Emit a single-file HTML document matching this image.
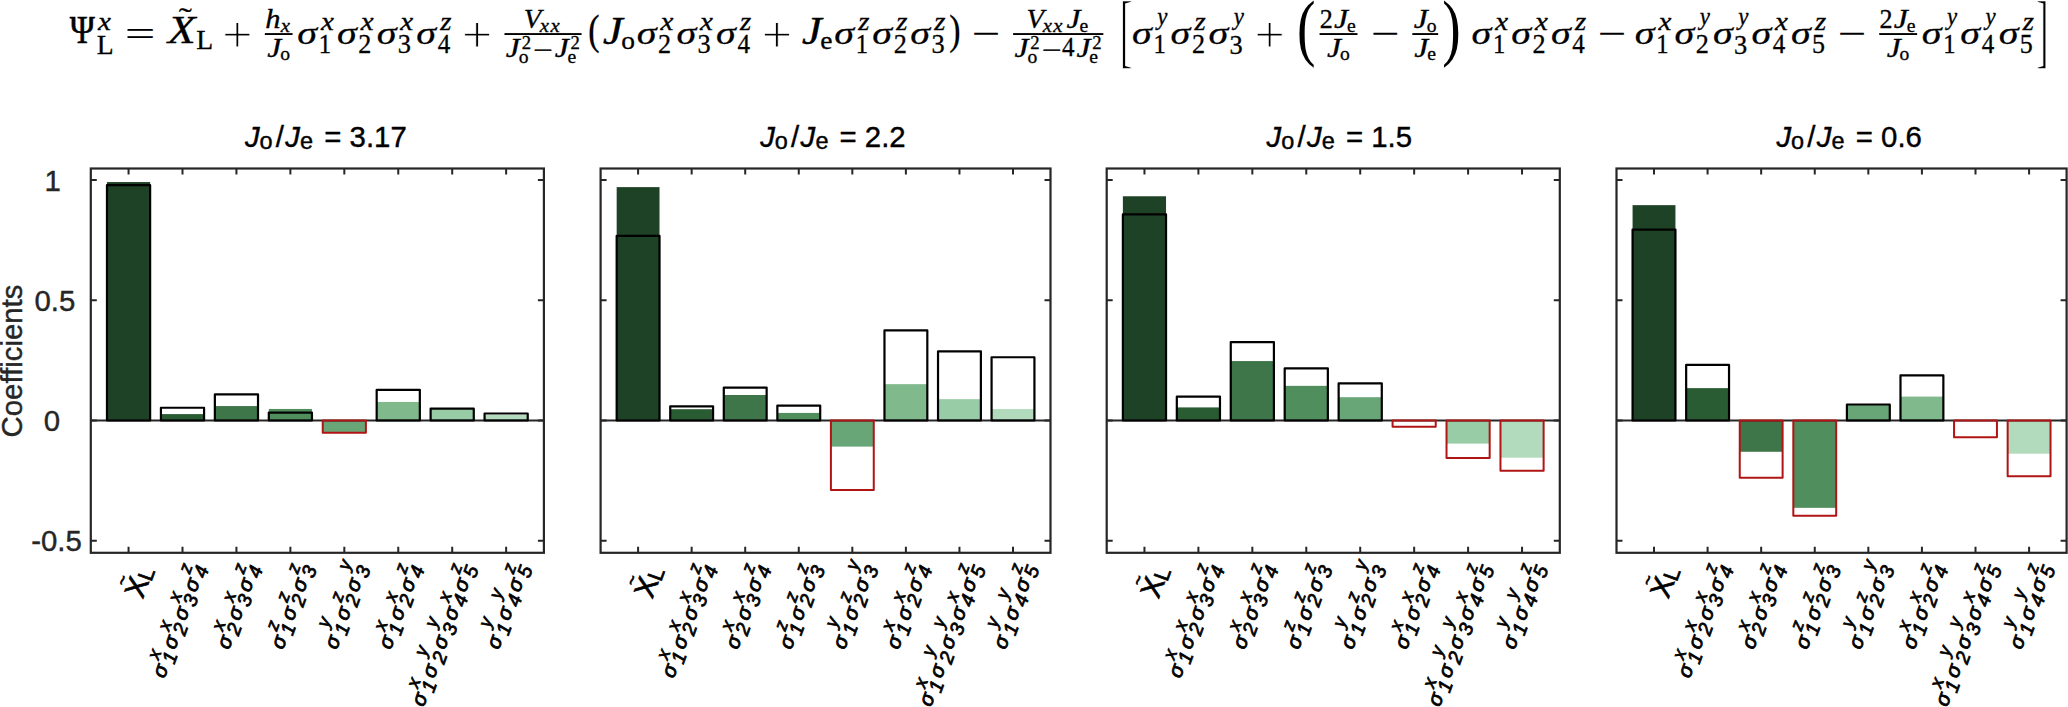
<!DOCTYPE html>
<html><head><meta charset="utf-8"><title>Figure</title>
<style>
html,body{margin:0;padding:0;background:#fff;}
svg{display:block;}
text{white-space:pre;}
</style></head>
<body>
<svg width="2068" height="707" viewBox="0 0 2068 707" font-family="'Liberation Sans', sans-serif">
<rect width="2068" height="707" fill="#fff"/>
<g font-family="'Liberation Serif', serif" fill="#000">
<text transform="matrix(0.9052 0 0 1.0431 69.66 43.43)" font-size="37.52" stroke="#000" stroke-width="0.6">Ψ</text>
<text transform="matrix(1.1098 0 0 0.9870 97.92 30.10)" font-size="26.26" font-style="italic" stroke="#000" stroke-width="0.32">x</text>
<text transform="matrix(1.0518 0 0 1.0431 96.87 53.76)" font-size="26.26" stroke="#000" stroke-width="0.32">L</text>
<text transform="matrix(1.4291 0 0 0.9360 124.94 45.71)" font-size="37.52" stroke="#000" stroke-width="0.2">=</text>
<text transform="matrix(1.0524 0 0 0.7270 178.64 27.26)" font-size="37.52" stroke="#000" stroke-width="0.3">˜</text>
<text transform="matrix(1.2184 0 0 1.0431 167.65 43.43)" font-size="37.52" font-style="italic" stroke="#000" stroke-width="0.3">X</text>
<text transform="matrix(1.0518 0 0 1.0431 196.27 49.06)" font-size="26.26" stroke="#000" stroke-width="0.32">L</text>
<text transform="matrix(1.4291 0 0 1.4297 222.25 51.86)" font-size="37.52" stroke="#fff" stroke-width="0.55">+</text>
<text transform="matrix(1.1625 0 0 1.0161 265.19 28.15)" font-size="26.26" font-style="italic" stroke="#000" stroke-width="0.32">h</text>
<text transform="matrix(1.1098 0 0 0.9870 280.77 32.01)" font-size="18.76" font-style="italic" stroke="#000" stroke-width="0.32">x</text>
<rect x="264.84" y="33.10" width="27.73" height="1.9"/>
<text transform="matrix(1.2014 0 0 1.0609 267.19 56.67)" font-size="26.26" font-style="italic" stroke="#000" stroke-width="0.32">J</text>
<text transform="matrix(1.0452 0 0 0.9543 280.14 60.34)" font-size="18.76" stroke="#000" stroke-width="0.32">o</text>
<text transform="matrix(1.0684 0 0 0.8413 297.31 43.53)" font-size="37.52" font-style="italic" stroke="#000" stroke-width="0.3">σ</text>
<text transform="matrix(1.1098 0 0 0.9870 320.98 30.10)" font-size="26.26" font-style="italic" stroke="#000" stroke-width="0.32">x</text>
<text transform="matrix(0.9374 0 0 1.0089 318.69 52.74)" font-size="26.26" stroke="#000" stroke-width="0.32">1</text>
<text transform="matrix(1.0684 0 0 0.8413 336.98 43.53)" font-size="37.52" font-style="italic" stroke="#000" stroke-width="0.3">σ</text>
<text transform="matrix(1.1098 0 0 0.9870 360.65 30.10)" font-size="26.26" font-style="italic" stroke="#000" stroke-width="0.32">x</text>
<text transform="matrix(0.9953 0 0 1.0059 358.35 52.74)" font-size="26.26" stroke="#000" stroke-width="0.32">2</text>
<text transform="matrix(1.0684 0 0 0.8413 376.65 43.53)" font-size="37.52" font-style="italic" stroke="#000" stroke-width="0.3">σ</text>
<text transform="matrix(1.1098 0 0 0.9870 400.32 30.10)" font-size="26.26" font-style="italic" stroke="#000" stroke-width="0.32">x</text>
<text transform="matrix(1.0046 0 0 1.0240 397.69 53.06)" font-size="26.26" stroke="#000" stroke-width="0.32">3</text>
<text transform="matrix(1.0684 0 0 0.8413 416.32 43.53)" font-size="37.52" font-style="italic" stroke="#000" stroke-width="0.3">σ</text>
<text transform="matrix(1.0950 0 0 0.9870 440.32 30.10)" font-size="26.26" font-style="italic" stroke="#000" stroke-width="0.32">z</text>
<text transform="matrix(0.9530 0 0 1.0286 437.77 52.74)" font-size="26.26" stroke="#000" stroke-width="0.32">4</text>
<text transform="matrix(1.4291 0 0 1.4297 461.88 51.86)" font-size="37.52" stroke="#fff" stroke-width="0.55">+</text>
<text transform="matrix(1.0889 0 0 1.0524 523.69 28.02)" font-size="26.26" font-style="italic" stroke="#000" stroke-width="0.32">V</text>
<text transform="matrix(1.1098 0 0 0.9870 539.83 32.01)" font-size="18.76" font-style="italic" stroke="#000" stroke-width="0.32">x</text>
<text transform="matrix(1.1098 0 0 0.9870 550.55 32.01)" font-size="18.76" font-style="italic" stroke="#000" stroke-width="0.32">x</text>
<rect x="504.47" y="33.10" width="77.12" height="1.9"/>
<text transform="matrix(1.2014 0 0 1.0609 505.86 56.67)" font-size="26.26" font-style="italic" stroke="#000" stroke-width="0.32">J</text>
<text transform="matrix(0.9953 0 0 1.0059 521.68 48.78)" font-size="18.76" stroke="#000" stroke-width="0.32">2</text>
<text transform="matrix(1.0452 0 0 0.9543 518.81 62.89)" font-size="18.76" stroke="#000" stroke-width="0.32">o</text>
<text transform="matrix(1.3130 0 0 0.8031 533.28 56.81)" font-size="26.26" stroke="#000" stroke-width="0.55">−</text>
<text transform="matrix(1.2014 0 0 1.0609 554.63 56.67)" font-size="26.26" font-style="italic" stroke="#000" stroke-width="0.32">J</text>
<text transform="matrix(0.9953 0 0 1.0059 570.45 48.78)" font-size="18.76" stroke="#000" stroke-width="0.32">2</text>
<text transform="matrix(1.0456 0 0 0.9543 567.56 62.89)" font-size="18.76" stroke="#000" stroke-width="0.32">e</text>
<text transform="matrix(0.9033 0 0 1.1029 588.31 44.00)" font-size="37.52" stroke="#000" stroke-width="0.3">(</text>
<text transform="matrix(1.2014 0 0 1.0609 602.66 43.87)" font-size="37.52" font-style="italic" stroke="#000" stroke-width="0.3">J</text>
<text transform="matrix(1.0452 0 0 0.9543 621.17 49.10)" font-size="26.26" stroke="#000" stroke-width="0.32">o</text>
<text transform="matrix(1.0684 0 0 0.8413 636.72 43.53)" font-size="37.52" font-style="italic" stroke="#000" stroke-width="0.3">σ</text>
<text transform="matrix(1.1098 0 0 0.9870 660.39 30.10)" font-size="26.26" font-style="italic" stroke="#000" stroke-width="0.32">x</text>
<text transform="matrix(0.9953 0 0 1.0059 658.09 52.74)" font-size="26.26" stroke="#000" stroke-width="0.32">2</text>
<text transform="matrix(1.0684 0 0 0.8413 676.39 43.53)" font-size="37.52" font-style="italic" stroke="#000" stroke-width="0.3">σ</text>
<text transform="matrix(1.1098 0 0 0.9870 700.06 30.10)" font-size="26.26" font-style="italic" stroke="#000" stroke-width="0.32">x</text>
<text transform="matrix(1.0046 0 0 1.0240 697.44 53.06)" font-size="26.26" stroke="#000" stroke-width="0.32">3</text>
<text transform="matrix(1.0684 0 0 0.8413 716.06 43.53)" font-size="37.52" font-style="italic" stroke="#000" stroke-width="0.3">σ</text>
<text transform="matrix(1.0950 0 0 0.9870 740.07 30.10)" font-size="26.26" font-style="italic" stroke="#000" stroke-width="0.32">z</text>
<text transform="matrix(0.9530 0 0 1.0286 737.51 52.74)" font-size="26.26" stroke="#000" stroke-width="0.32">4</text>
<text transform="matrix(1.4291 0 0 1.4297 761.63 51.86)" font-size="37.52" stroke="#fff" stroke-width="0.55">+</text>
<text transform="matrix(1.2014 0 0 1.0609 801.70 43.87)" font-size="37.52" font-style="italic" stroke="#000" stroke-width="0.3">J</text>
<text transform="matrix(1.0456 0 0 0.9543 820.18 49.10)" font-size="26.26" stroke="#000" stroke-width="0.32">e</text>
<text transform="matrix(1.0684 0 0 0.8413 834.30 43.53)" font-size="37.52" font-style="italic" stroke="#000" stroke-width="0.3">σ</text>
<text transform="matrix(1.0950 0 0 0.9870 858.30 30.10)" font-size="26.26" font-style="italic" stroke="#000" stroke-width="0.32">z</text>
<text transform="matrix(0.9374 0 0 1.0089 855.68 52.74)" font-size="26.26" stroke="#000" stroke-width="0.32">1</text>
<text transform="matrix(1.0684 0 0 0.8413 872.33 43.53)" font-size="37.52" font-style="italic" stroke="#000" stroke-width="0.3">σ</text>
<text transform="matrix(1.0950 0 0 0.9870 896.33 30.10)" font-size="26.26" font-style="italic" stroke="#000" stroke-width="0.32">z</text>
<text transform="matrix(0.9953 0 0 1.0059 893.70 52.74)" font-size="26.26" stroke="#000" stroke-width="0.32">2</text>
<text transform="matrix(1.0684 0 0 0.8413 910.36 43.53)" font-size="37.52" font-style="italic" stroke="#000" stroke-width="0.3">σ</text>
<text transform="matrix(1.0950 0 0 0.9870 934.36 30.10)" font-size="26.26" font-style="italic" stroke="#000" stroke-width="0.32">z</text>
<text transform="matrix(1.0046 0 0 1.0240 931.40 53.06)" font-size="26.26" stroke="#000" stroke-width="0.32">3</text>
<text transform="matrix(0.9033 0 0 1.1029 949.20 44.00)" font-size="37.52" stroke="#000" stroke-width="0.3">)</text>
<text transform="matrix(1.3130 0 0 0.8031 971.74 44.06)" font-size="37.52" stroke="#000" stroke-width="0.55">−</text>
<text transform="matrix(1.0889 0 0 1.0524 1026.49 28.02)" font-size="26.26" font-style="italic" stroke="#000" stroke-width="0.32">V</text>
<text transform="matrix(1.1098 0 0 0.9870 1042.63 32.01)" font-size="18.76" font-style="italic" stroke="#000" stroke-width="0.32">x</text>
<text transform="matrix(1.1098 0 0 0.9870 1053.35 32.01)" font-size="18.76" font-style="italic" stroke="#000" stroke-width="0.32">x</text>
<text transform="matrix(1.2014 0 0 1.0609 1066.54 28.17)" font-size="26.26" font-style="italic" stroke="#000" stroke-width="0.32">J</text>
<text transform="matrix(1.0456 0 0 0.9543 1079.48 31.83)" font-size="18.76" stroke="#000" stroke-width="0.32">e</text>
<rect x="1013.10" y="33.10" width="90.25" height="1.9"/>
<text transform="matrix(1.2014 0 0 1.0609 1014.49 56.67)" font-size="26.26" font-style="italic" stroke="#000" stroke-width="0.32">J</text>
<text transform="matrix(0.9953 0 0 1.0059 1030.31 48.78)" font-size="18.76" stroke="#000" stroke-width="0.32">2</text>
<text transform="matrix(1.0452 0 0 0.9543 1027.44 62.89)" font-size="18.76" stroke="#000" stroke-width="0.32">o</text>
<text transform="matrix(1.3130 0 0 0.8031 1041.91 56.81)" font-size="26.26" stroke="#000" stroke-width="0.55">−</text>
<text transform="matrix(0.9530 0 0 1.0286 1062.12 56.37)" font-size="26.26" stroke="#000" stroke-width="0.32">4</text>
<text transform="matrix(1.2014 0 0 1.0609 1076.39 56.67)" font-size="26.26" font-style="italic" stroke="#000" stroke-width="0.32">J</text>
<text transform="matrix(0.9953 0 0 1.0059 1092.21 48.78)" font-size="18.76" stroke="#000" stroke-width="0.32">2</text>
<text transform="matrix(1.0456 0 0 0.9543 1089.32 62.89)" font-size="18.76" stroke="#000" stroke-width="0.32">e</text>
<text transform="matrix(1.0195 0 0 2.2187 1119.74 57.54)" font-size="37.52" stroke="#fff" stroke-width="0.7">[</text>
<text transform="matrix(1.0684 0 0 0.8413 1132.05 43.53)" font-size="37.52" font-style="italic" stroke="#000" stroke-width="0.3">σ</text>
<text transform="matrix(0.8734 0 0 0.9588 1157.28 25.35)" font-size="26.26" font-style="italic" stroke="#000" stroke-width="0.32">y</text>
<text transform="matrix(0.9374 0 0 1.0089 1153.43 53.43)" font-size="26.26" stroke="#000" stroke-width="0.32">1</text>
<text transform="matrix(1.0684 0 0 0.8413 1170.53 43.53)" font-size="37.52" font-style="italic" stroke="#000" stroke-width="0.3">σ</text>
<text transform="matrix(1.0950 0 0 0.9870 1194.53 30.10)" font-size="26.26" font-style="italic" stroke="#000" stroke-width="0.32">z</text>
<text transform="matrix(0.9953 0 0 1.0059 1191.90 52.74)" font-size="26.26" stroke="#000" stroke-width="0.32">2</text>
<text transform="matrix(1.0684 0 0 0.8413 1208.56 43.53)" font-size="37.52" font-style="italic" stroke="#000" stroke-width="0.3">σ</text>
<text transform="matrix(0.8734 0 0 0.9588 1233.79 25.35)" font-size="26.26" font-style="italic" stroke="#000" stroke-width="0.32">y</text>
<text transform="matrix(1.0046 0 0 1.0240 1229.60 53.75)" font-size="26.26" stroke="#000" stroke-width="0.32">3</text>
<text transform="matrix(1.4291 0 0 1.4297 1254.57 51.86)" font-size="37.52" stroke="#fff" stroke-width="0.55">+</text>
<text transform="matrix(1.4795 0 0 1.9840 1296.97 51.93)" font-size="37.52">(</text>
<text transform="matrix(0.9953 0 0 1.0059 1319.73 27.86)" font-size="26.26" stroke="#000" stroke-width="0.32">2</text>
<text transform="matrix(1.2014 0 0 1.0609 1334.09 28.17)" font-size="26.26" font-style="italic" stroke="#000" stroke-width="0.32">J</text>
<text transform="matrix(1.0456 0 0 0.9543 1347.02 31.83)" font-size="18.76" stroke="#000" stroke-width="0.32">e</text>
<rect x="1319.57" y="33.10" width="37.91" height="1.9"/>
<text transform="matrix(1.2014 0 0 1.0609 1327.00 56.67)" font-size="26.26" font-style="italic" stroke="#000" stroke-width="0.32">J</text>
<text transform="matrix(1.0452 0 0 0.9543 1339.95 60.34)" font-size="18.76" stroke="#000" stroke-width="0.32">o</text>
<text transform="matrix(1.3130 0 0 0.8031 1370.97 44.06)" font-size="37.52" stroke="#000" stroke-width="0.55">−</text>
<text transform="matrix(1.2014 0 0 1.0609 1413.72 28.17)" font-size="26.26" font-style="italic" stroke="#000" stroke-width="0.32">J</text>
<text transform="matrix(1.0452 0 0 0.9543 1426.68 31.83)" font-size="18.76" stroke="#000" stroke-width="0.32">o</text>
<rect x="1412.33" y="33.10" width="25.82" height="1.9"/>
<text transform="matrix(1.2014 0 0 1.0609 1414.24 56.67)" font-size="26.26" font-style="italic" stroke="#000" stroke-width="0.32">J</text>
<text transform="matrix(1.0456 0 0 0.9543 1427.18 60.34)" font-size="18.76" stroke="#000" stroke-width="0.32">e</text>
<text transform="matrix(1.4795 0 0 1.9840 1442.22 51.93)" font-size="37.52">)</text>
<text transform="matrix(1.0684 0 0 0.8413 1471.55 43.53)" font-size="37.52" font-style="italic" stroke="#000" stroke-width="0.3">σ</text>
<text transform="matrix(1.1098 0 0 0.9870 1495.22 30.10)" font-size="26.26" font-style="italic" stroke="#000" stroke-width="0.32">x</text>
<text transform="matrix(0.9374 0 0 1.0089 1492.93 52.74)" font-size="26.26" stroke="#000" stroke-width="0.32">1</text>
<text transform="matrix(1.0684 0 0 0.8413 1511.22 43.53)" font-size="37.52" font-style="italic" stroke="#000" stroke-width="0.3">σ</text>
<text transform="matrix(1.1098 0 0 0.9870 1534.89 30.10)" font-size="26.26" font-style="italic" stroke="#000" stroke-width="0.32">x</text>
<text transform="matrix(0.9953 0 0 1.0059 1532.59 52.74)" font-size="26.26" stroke="#000" stroke-width="0.32">2</text>
<text transform="matrix(1.0684 0 0 0.8413 1550.89 43.53)" font-size="37.52" font-style="italic" stroke="#000" stroke-width="0.3">σ</text>
<text transform="matrix(1.0950 0 0 0.9870 1574.89 30.10)" font-size="26.26" font-style="italic" stroke="#000" stroke-width="0.32">z</text>
<text transform="matrix(0.9530 0 0 1.0286 1572.34 52.74)" font-size="26.26" stroke="#000" stroke-width="0.32">4</text>
<text transform="matrix(1.3130 0 0 0.8031 1597.68 44.06)" font-size="37.52" stroke="#000" stroke-width="0.55">−</text>
<text transform="matrix(1.0684 0 0 0.8413 1634.77 43.53)" font-size="37.52" font-style="italic" stroke="#000" stroke-width="0.3">σ</text>
<text transform="matrix(1.1098 0 0 0.9870 1658.44 30.10)" font-size="26.26" font-style="italic" stroke="#000" stroke-width="0.32">x</text>
<text transform="matrix(0.9374 0 0 1.0089 1656.15 52.74)" font-size="26.26" stroke="#000" stroke-width="0.32">1</text>
<text transform="matrix(1.0684 0 0 0.8413 1674.44 43.53)" font-size="37.52" font-style="italic" stroke="#000" stroke-width="0.3">σ</text>
<text transform="matrix(0.8734 0 0 0.9588 1699.67 25.35)" font-size="26.26" font-style="italic" stroke="#000" stroke-width="0.32">y</text>
<text transform="matrix(0.9953 0 0 1.0059 1695.81 53.43)" font-size="26.26" stroke="#000" stroke-width="0.32">2</text>
<text transform="matrix(1.0684 0 0 0.8413 1712.92 43.53)" font-size="37.52" font-style="italic" stroke="#000" stroke-width="0.3">σ</text>
<text transform="matrix(0.8734 0 0 0.9588 1738.15 25.35)" font-size="26.26" font-style="italic" stroke="#000" stroke-width="0.32">y</text>
<text transform="matrix(1.0046 0 0 1.0240 1733.96 53.75)" font-size="26.26" stroke="#000" stroke-width="0.32">3</text>
<text transform="matrix(1.0684 0 0 0.8413 1751.40 43.53)" font-size="37.52" font-style="italic" stroke="#000" stroke-width="0.3">σ</text>
<text transform="matrix(1.1098 0 0 0.9870 1775.07 30.10)" font-size="26.26" font-style="italic" stroke="#000" stroke-width="0.32">x</text>
<text transform="matrix(0.9530 0 0 1.0286 1772.85 52.74)" font-size="26.26" stroke="#000" stroke-width="0.32">4</text>
<text transform="matrix(1.0684 0 0 0.8413 1791.07 43.53)" font-size="37.52" font-style="italic" stroke="#000" stroke-width="0.3">σ</text>
<text transform="matrix(1.0950 0 0 0.9870 1815.07 30.10)" font-size="26.26" font-style="italic" stroke="#000" stroke-width="0.32">z</text>
<text transform="matrix(0.9905 0 0 1.0353 1812.07 53.05)" font-size="26.26" stroke="#000" stroke-width="0.32">5</text>
<text transform="matrix(1.3130 0 0 0.8031 1837.86 44.06)" font-size="37.52" stroke="#000" stroke-width="0.55">−</text>
<text transform="matrix(0.9953 0 0 1.0059 1879.38 27.86)" font-size="26.26" stroke="#000" stroke-width="0.32">2</text>
<text transform="matrix(1.2014 0 0 1.0609 1893.74 28.17)" font-size="26.26" font-style="italic" stroke="#000" stroke-width="0.32">J</text>
<text transform="matrix(1.0456 0 0 0.9543 1906.67 31.83)" font-size="18.76" stroke="#000" stroke-width="0.32">e</text>
<rect x="1879.22" y="33.10" width="37.91" height="1.9"/>
<text transform="matrix(1.2014 0 0 1.0609 1886.65 56.67)" font-size="26.26" font-style="italic" stroke="#000" stroke-width="0.32">J</text>
<text transform="matrix(1.0452 0 0 0.9543 1899.61 60.34)" font-size="18.76" stroke="#000" stroke-width="0.32">o</text>
<text transform="matrix(1.0684 0 0 0.8413 1921.86 43.53)" font-size="37.52" font-style="italic" stroke="#000" stroke-width="0.3">σ</text>
<text transform="matrix(0.8734 0 0 0.9588 1947.09 25.35)" font-size="26.26" font-style="italic" stroke="#000" stroke-width="0.32">y</text>
<text transform="matrix(0.9374 0 0 1.0089 1943.24 53.43)" font-size="26.26" stroke="#000" stroke-width="0.32">1</text>
<text transform="matrix(1.0684 0 0 0.8413 1960.34 43.53)" font-size="37.52" font-style="italic" stroke="#000" stroke-width="0.3">σ</text>
<text transform="matrix(0.8734 0 0 0.9588 1985.57 25.35)" font-size="26.26" font-style="italic" stroke="#000" stroke-width="0.32">y</text>
<text transform="matrix(0.9530 0 0 1.0286 1981.79 53.43)" font-size="26.26" stroke="#000" stroke-width="0.32">4</text>
<text transform="matrix(1.0684 0 0 0.8413 1998.82 43.53)" font-size="37.52" font-style="italic" stroke="#000" stroke-width="0.3">σ</text>
<text transform="matrix(1.0950 0 0 0.9870 2022.82 30.10)" font-size="26.26" font-style="italic" stroke="#000" stroke-width="0.32">z</text>
<text transform="matrix(0.9905 0 0 1.0353 2019.83 53.05)" font-size="26.26" stroke="#000" stroke-width="0.32">5</text>
<text transform="matrix(1.0195 0 0 2.2187 2035.91 57.54)" font-size="37.52" stroke="#fff" stroke-width="0.7">]</text>
</g>
<rect x="106.98" y="182.07" width="43.15" height="238.43" fill="#1E4226"/>
<rect x="160.92" y="414.10" width="43.15" height="6.40" fill="#2A5C34"/>
<rect x="214.86" y="406.06" width="43.15" height="14.44" fill="#3E764A"/>
<rect x="268.80" y="408.95" width="43.15" height="11.55" fill="#508E5E"/>
<rect x="322.74" y="420.50" width="43.15" height="12.03" fill="#68A678"/>
<rect x="376.68" y="401.97" width="43.15" height="18.53" fill="#7FB98C"/>
<rect x="430.62" y="408.47" width="43.15" height="12.03" fill="#98CCA6"/>
<rect x="484.57" y="414.97" width="43.15" height="5.53" fill="#B2DBBD"/>
<line x1="90.8" y1="420.5" x2="543.9" y2="420.5" stroke="#262626" stroke-width="2"/>
<rect x="106.98" y="185.19" width="43.15" height="235.31" fill="none" stroke="#000" stroke-width="2.2" stroke-linejoin="round"/>
<rect x="160.92" y="407.75" width="43.15" height="12.75" fill="none" stroke="#000" stroke-width="2.2" stroke-linejoin="round"/>
<rect x="214.86" y="394.39" width="43.15" height="26.11" fill="none" stroke="#000" stroke-width="2.2" stroke-linejoin="round"/>
<rect x="268.80" y="412.56" width="43.15" height="7.94" fill="none" stroke="#000" stroke-width="2.2" stroke-linejoin="round"/>
<rect x="322.74" y="420.50" width="43.15" height="12.20" fill="none" stroke="#B01414" stroke-width="2.0" stroke-linejoin="round"/>
<rect x="376.68" y="389.80" width="43.15" height="30.70" fill="none" stroke="#000" stroke-width="2.2" stroke-linejoin="round"/>
<rect x="430.62" y="408.71" width="43.15" height="11.79" fill="none" stroke="#000" stroke-width="2.2" stroke-linejoin="round"/>
<rect x="484.57" y="413.52" width="43.15" height="6.98" fill="none" stroke="#000" stroke-width="2.2" stroke-linejoin="round"/>
<rect x="90.8" y="168.5" width="453.10" height="384.30" fill="none" stroke="#262626" stroke-width="2.2"/>
<path d="M128.56 168.5v6M128.56 552.8v-6M182.50 168.5v6M182.50 552.8v-6M236.44 168.5v6M236.44 552.8v-6M290.38 168.5v6M290.38 552.8v-6M344.32 168.5v6M344.32 552.8v-6M398.26 168.5v6M398.26 552.8v-6M452.20 168.5v6M452.20 552.8v-6M506.14 168.5v6M506.14 552.8v-6M90.8 179.90h6M543.9 179.90h-6M90.8 300.20h6M543.9 300.20h-6M90.8 420.50h6M543.9 420.50h-6M90.8 540.80h6M543.9 540.80h-6" stroke="#262626" stroke-width="2" fill="none"/>
<g transform="translate(244.9 146.7) scale(1.013 1.045)" font-size="29.0" fill="#000" stroke="#000" stroke-width="0.4"><text x="0" y="0" font-style="italic">J</text><text x="14.4" y="2.3" font-size="23.2">o</text><text x="30.4" y="0">/</text><text x="39.8" y="0" font-style="italic">J</text><text x="54.5" y="2.3" font-size="23.2">e</text><text x="70.3" y="0"> = 3.17</text></g>
<g transform="translate(128.56 557.5) rotate(-70)" fill="#000" stroke="#000" stroke-width="0.75"><text x="-34.67" y="27.67" font-size="29">X</text><text x="-15.43" y="29.90" font-size="21.5">L</text><text x="-23.3" y="7.50" font-size="17" text-anchor="middle">~</text></g>
<g transform="translate(182.50 557.5) rotate(-70)" font-style="italic" fill="#000" stroke="#000" stroke-width="0.75"><text x="-120.20" y="24.7" font-size="20.6" stroke-width="0.85">σ</text><text x="-103.90" y="29.0" font-size="19.6">1</text><text x="-104.90" y="12.60" font-size="18.2">x</text><text x="-89.70" y="24.7" font-size="20.6" stroke-width="0.85">σ</text><text x="-73.40" y="29.0" font-size="19.6">2</text><text x="-74.40" y="12.60" font-size="18.2">x</text><text x="-59.20" y="24.7" font-size="20.6" stroke-width="0.85">σ</text><text x="-42.90" y="29.0" font-size="19.6">3</text><text x="-43.90" y="12.60" font-size="18.2">x</text><text x="-28.70" y="24.7" font-size="20.6" stroke-width="0.85">σ</text><text x="-12.40" y="29.0" font-size="19.6">4</text><text x="-13.40" y="12.60" font-size="18.2">z</text></g>
<g transform="translate(236.44 557.5) rotate(-70)" font-style="italic" fill="#000" stroke="#000" stroke-width="0.75"><text x="-89.70" y="24.7" font-size="20.6" stroke-width="0.85">σ</text><text x="-73.40" y="29.0" font-size="19.6">2</text><text x="-74.40" y="12.60" font-size="18.2">x</text><text x="-59.20" y="24.7" font-size="20.6" stroke-width="0.85">σ</text><text x="-42.90" y="29.0" font-size="19.6">3</text><text x="-43.90" y="12.60" font-size="18.2">x</text><text x="-28.70" y="24.7" font-size="20.6" stroke-width="0.85">σ</text><text x="-12.40" y="29.0" font-size="19.6">4</text><text x="-13.40" y="12.60" font-size="18.2">z</text></g>
<g transform="translate(290.38 557.5) rotate(-70)" font-style="italic" fill="#000" stroke="#000" stroke-width="0.75"><text x="-89.70" y="24.7" font-size="20.6" stroke-width="0.85">σ</text><text x="-73.40" y="29.0" font-size="19.6">1</text><text x="-74.40" y="12.60" font-size="18.2">z</text><text x="-59.20" y="24.7" font-size="20.6" stroke-width="0.85">σ</text><text x="-42.90" y="29.0" font-size="19.6">2</text><text x="-43.90" y="12.60" font-size="18.2">z</text><text x="-28.70" y="24.7" font-size="20.6" stroke-width="0.85">σ</text><text x="-12.40" y="29.0" font-size="19.6">3</text><text x="-13.40" y="12.60" font-size="18.2">z</text></g>
<g transform="translate(344.32 557.5) rotate(-70)" font-style="italic" fill="#000" stroke="#000" stroke-width="0.75"><text x="-89.70" y="24.7" font-size="20.6" stroke-width="0.85">σ</text><text x="-73.40" y="29.0" font-size="19.6">1</text><text x="-72.40" y="8.90" font-size="18.2">y</text><text x="-59.20" y="24.7" font-size="20.6" stroke-width="0.85">σ</text><text x="-42.90" y="29.0" font-size="19.6">2</text><text x="-43.90" y="12.60" font-size="18.2">z</text><text x="-28.70" y="24.7" font-size="20.6" stroke-width="0.85">σ</text><text x="-12.40" y="29.0" font-size="19.6">3</text><text x="-11.40" y="8.90" font-size="18.2">y</text></g>
<g transform="translate(398.26 557.5) rotate(-70)" font-style="italic" fill="#000" stroke="#000" stroke-width="0.75"><text x="-89.70" y="24.7" font-size="20.6" stroke-width="0.85">σ</text><text x="-73.40" y="29.0" font-size="19.6">1</text><text x="-74.40" y="12.60" font-size="18.2">x</text><text x="-59.20" y="24.7" font-size="20.6" stroke-width="0.85">σ</text><text x="-42.90" y="29.0" font-size="19.6">2</text><text x="-43.90" y="12.60" font-size="18.2">x</text><text x="-28.70" y="24.7" font-size="20.6" stroke-width="0.85">σ</text><text x="-12.40" y="29.0" font-size="19.6">4</text><text x="-13.40" y="12.60" font-size="18.2">z</text></g>
<g transform="translate(452.20 557.5) rotate(-70)" font-style="italic" fill="#000" stroke="#000" stroke-width="0.75"><text x="-150.70" y="24.7" font-size="20.6" stroke-width="0.85">σ</text><text x="-134.40" y="29.0" font-size="19.6">1</text><text x="-135.40" y="12.60" font-size="18.2">x</text><text x="-120.20" y="24.7" font-size="20.6" stroke-width="0.85">σ</text><text x="-103.90" y="29.0" font-size="19.6">2</text><text x="-102.90" y="8.90" font-size="18.2">y</text><text x="-89.70" y="24.7" font-size="20.6" stroke-width="0.85">σ</text><text x="-73.40" y="29.0" font-size="19.6">3</text><text x="-72.40" y="8.90" font-size="18.2">y</text><text x="-59.20" y="24.7" font-size="20.6" stroke-width="0.85">σ</text><text x="-42.90" y="29.0" font-size="19.6">4</text><text x="-43.90" y="12.60" font-size="18.2">x</text><text x="-28.70" y="24.7" font-size="20.6" stroke-width="0.85">σ</text><text x="-12.40" y="29.0" font-size="19.6">5</text><text x="-13.40" y="12.60" font-size="18.2">z</text></g>
<g transform="translate(506.14 557.5) rotate(-70)" font-style="italic" fill="#000" stroke="#000" stroke-width="0.75"><text x="-89.70" y="24.7" font-size="20.6" stroke-width="0.85">σ</text><text x="-73.40" y="29.0" font-size="19.6">1</text><text x="-72.40" y="8.90" font-size="18.2">y</text><text x="-59.20" y="24.7" font-size="20.6" stroke-width="0.85">σ</text><text x="-42.90" y="29.0" font-size="19.6">4</text><text x="-41.90" y="8.90" font-size="18.2">y</text><text x="-28.70" y="24.7" font-size="20.6" stroke-width="0.85">σ</text><text x="-12.40" y="29.0" font-size="19.6">5</text><text x="-13.40" y="12.60" font-size="18.2">z</text></g>
<rect x="616.67" y="187.12" width="42.85" height="233.38" fill="#1E4226"/>
<rect x="670.23" y="409.19" width="42.85" height="11.31" fill="#2A5C34"/>
<rect x="723.79" y="395.00" width="42.85" height="25.50" fill="#3E764A"/>
<rect x="777.35" y="412.92" width="42.85" height="7.58" fill="#508E5E"/>
<rect x="830.91" y="420.50" width="42.85" height="26.11" fill="#68A678"/>
<rect x="884.47" y="384.17" width="42.85" height="36.33" fill="#7FB98C"/>
<rect x="938.03" y="399.16" width="42.85" height="21.34" fill="#98CCA6"/>
<rect x="991.58" y="409.07" width="42.85" height="11.43" fill="#B2DBBD"/>
<line x1="600.6" y1="420.5" x2="1050.5" y2="420.5" stroke="#262626" stroke-width="2"/>
<rect x="616.67" y="235.96" width="42.85" height="184.54" fill="none" stroke="#000" stroke-width="2.2" stroke-linejoin="round"/>
<rect x="670.23" y="406.30" width="42.85" height="14.20" fill="none" stroke="#000" stroke-width="2.2" stroke-linejoin="round"/>
<rect x="723.79" y="387.61" width="42.85" height="32.89" fill="none" stroke="#000" stroke-width="2.2" stroke-linejoin="round"/>
<rect x="777.35" y="405.58" width="42.85" height="14.92" fill="none" stroke="#000" stroke-width="2.2" stroke-linejoin="round"/>
<rect x="830.91" y="420.50" width="42.85" height="69.53" fill="none" stroke="#B01414" stroke-width="2.0" stroke-linejoin="round"/>
<rect x="884.47" y="330.40" width="42.85" height="90.10" fill="none" stroke="#000" stroke-width="2.2" stroke-linejoin="round"/>
<rect x="938.03" y="351.33" width="42.85" height="69.17" fill="none" stroke="#000" stroke-width="2.2" stroke-linejoin="round"/>
<rect x="991.58" y="357.27" width="42.85" height="63.23" fill="none" stroke="#000" stroke-width="2.2" stroke-linejoin="round"/>
<rect x="600.6" y="168.5" width="449.90" height="384.30" fill="none" stroke="#262626" stroke-width="2.2"/>
<path d="M638.09 168.5v6M638.09 552.8v-6M691.65 168.5v6M691.65 552.8v-6M745.21 168.5v6M745.21 552.8v-6M798.77 168.5v6M798.77 552.8v-6M852.33 168.5v6M852.33 552.8v-6M905.89 168.5v6M905.89 552.8v-6M959.45 168.5v6M959.45 552.8v-6M1013.01 168.5v6M1013.01 552.8v-6M600.6 179.90h6M1050.5 179.90h-6M600.6 300.20h6M1050.5 300.20h-6M600.6 420.50h6M1050.5 420.50h-6M600.6 540.80h6M1050.5 540.80h-6" stroke="#262626" stroke-width="2" fill="none"/>
<g transform="translate(760.2 146.7) scale(1.013 1.045)" font-size="29.0" fill="#000" stroke="#000" stroke-width="0.4"><text x="0" y="0" font-style="italic">J</text><text x="14.4" y="2.3" font-size="23.2">o</text><text x="30.4" y="0">/</text><text x="39.8" y="0" font-style="italic">J</text><text x="54.5" y="2.3" font-size="23.2">e</text><text x="70.3" y="0"> = 2.2</text></g>
<g transform="translate(638.09 557.5) rotate(-70)" fill="#000" stroke="#000" stroke-width="0.75"><text x="-34.67" y="27.67" font-size="29">X</text><text x="-15.43" y="29.90" font-size="21.5">L</text><text x="-23.3" y="7.50" font-size="17" text-anchor="middle">~</text></g>
<g transform="translate(691.65 557.5) rotate(-70)" font-style="italic" fill="#000" stroke="#000" stroke-width="0.75"><text x="-120.20" y="24.7" font-size="20.6" stroke-width="0.85">σ</text><text x="-103.90" y="29.0" font-size="19.6">1</text><text x="-104.90" y="12.60" font-size="18.2">x</text><text x="-89.70" y="24.7" font-size="20.6" stroke-width="0.85">σ</text><text x="-73.40" y="29.0" font-size="19.6">2</text><text x="-74.40" y="12.60" font-size="18.2">x</text><text x="-59.20" y="24.7" font-size="20.6" stroke-width="0.85">σ</text><text x="-42.90" y="29.0" font-size="19.6">3</text><text x="-43.90" y="12.60" font-size="18.2">x</text><text x="-28.70" y="24.7" font-size="20.6" stroke-width="0.85">σ</text><text x="-12.40" y="29.0" font-size="19.6">4</text><text x="-13.40" y="12.60" font-size="18.2">z</text></g>
<g transform="translate(745.21 557.5) rotate(-70)" font-style="italic" fill="#000" stroke="#000" stroke-width="0.75"><text x="-89.70" y="24.7" font-size="20.6" stroke-width="0.85">σ</text><text x="-73.40" y="29.0" font-size="19.6">2</text><text x="-74.40" y="12.60" font-size="18.2">x</text><text x="-59.20" y="24.7" font-size="20.6" stroke-width="0.85">σ</text><text x="-42.90" y="29.0" font-size="19.6">3</text><text x="-43.90" y="12.60" font-size="18.2">x</text><text x="-28.70" y="24.7" font-size="20.6" stroke-width="0.85">σ</text><text x="-12.40" y="29.0" font-size="19.6">4</text><text x="-13.40" y="12.60" font-size="18.2">z</text></g>
<g transform="translate(798.77 557.5) rotate(-70)" font-style="italic" fill="#000" stroke="#000" stroke-width="0.75"><text x="-89.70" y="24.7" font-size="20.6" stroke-width="0.85">σ</text><text x="-73.40" y="29.0" font-size="19.6">1</text><text x="-74.40" y="12.60" font-size="18.2">z</text><text x="-59.20" y="24.7" font-size="20.6" stroke-width="0.85">σ</text><text x="-42.90" y="29.0" font-size="19.6">2</text><text x="-43.90" y="12.60" font-size="18.2">z</text><text x="-28.70" y="24.7" font-size="20.6" stroke-width="0.85">σ</text><text x="-12.40" y="29.0" font-size="19.6">3</text><text x="-13.40" y="12.60" font-size="18.2">z</text></g>
<g transform="translate(852.33 557.5) rotate(-70)" font-style="italic" fill="#000" stroke="#000" stroke-width="0.75"><text x="-89.70" y="24.7" font-size="20.6" stroke-width="0.85">σ</text><text x="-73.40" y="29.0" font-size="19.6">1</text><text x="-72.40" y="8.90" font-size="18.2">y</text><text x="-59.20" y="24.7" font-size="20.6" stroke-width="0.85">σ</text><text x="-42.90" y="29.0" font-size="19.6">2</text><text x="-43.90" y="12.60" font-size="18.2">z</text><text x="-28.70" y="24.7" font-size="20.6" stroke-width="0.85">σ</text><text x="-12.40" y="29.0" font-size="19.6">3</text><text x="-11.40" y="8.90" font-size="18.2">y</text></g>
<g transform="translate(905.89 557.5) rotate(-70)" font-style="italic" fill="#000" stroke="#000" stroke-width="0.75"><text x="-89.70" y="24.7" font-size="20.6" stroke-width="0.85">σ</text><text x="-73.40" y="29.0" font-size="19.6">1</text><text x="-74.40" y="12.60" font-size="18.2">x</text><text x="-59.20" y="24.7" font-size="20.6" stroke-width="0.85">σ</text><text x="-42.90" y="29.0" font-size="19.6">2</text><text x="-43.90" y="12.60" font-size="18.2">x</text><text x="-28.70" y="24.7" font-size="20.6" stroke-width="0.85">σ</text><text x="-12.40" y="29.0" font-size="19.6">4</text><text x="-13.40" y="12.60" font-size="18.2">z</text></g>
<g transform="translate(959.45 557.5) rotate(-70)" font-style="italic" fill="#000" stroke="#000" stroke-width="0.75"><text x="-150.70" y="24.7" font-size="20.6" stroke-width="0.85">σ</text><text x="-134.40" y="29.0" font-size="19.6">1</text><text x="-135.40" y="12.60" font-size="18.2">x</text><text x="-120.20" y="24.7" font-size="20.6" stroke-width="0.85">σ</text><text x="-103.90" y="29.0" font-size="19.6">2</text><text x="-102.90" y="8.90" font-size="18.2">y</text><text x="-89.70" y="24.7" font-size="20.6" stroke-width="0.85">σ</text><text x="-73.40" y="29.0" font-size="19.6">3</text><text x="-72.40" y="8.90" font-size="18.2">y</text><text x="-59.20" y="24.7" font-size="20.6" stroke-width="0.85">σ</text><text x="-42.90" y="29.0" font-size="19.6">4</text><text x="-43.90" y="12.60" font-size="18.2">x</text><text x="-28.70" y="24.7" font-size="20.6" stroke-width="0.85">σ</text><text x="-12.40" y="29.0" font-size="19.6">5</text><text x="-13.40" y="12.60" font-size="18.2">z</text></g>
<g transform="translate(1013.01 557.5) rotate(-70)" font-style="italic" fill="#000" stroke="#000" stroke-width="0.75"><text x="-89.70" y="24.7" font-size="20.6" stroke-width="0.85">σ</text><text x="-73.40" y="29.0" font-size="19.6">1</text><text x="-72.40" y="8.90" font-size="18.2">y</text><text x="-59.20" y="24.7" font-size="20.6" stroke-width="0.85">σ</text><text x="-42.90" y="29.0" font-size="19.6">4</text><text x="-41.90" y="8.90" font-size="18.2">y</text><text x="-28.70" y="24.7" font-size="20.6" stroke-width="0.85">σ</text><text x="-12.40" y="29.0" font-size="19.6">5</text><text x="-13.40" y="12.60" font-size="18.2">z</text></g>
<rect x="1122.88" y="196.26" width="43.15" height="224.24" fill="#1E4226"/>
<rect x="1176.82" y="407.41" width="43.15" height="13.09" fill="#2A5C34"/>
<rect x="1230.76" y="361.07" width="43.15" height="59.43" fill="#3E764A"/>
<rect x="1284.70" y="385.85" width="43.15" height="34.65" fill="#508E5E"/>
<rect x="1338.64" y="397.21" width="43.15" height="23.29" fill="#68A678"/>
<rect x="1446.52" y="420.50" width="43.15" height="23.10" fill="#98CCA6"/>
<rect x="1500.47" y="420.50" width="43.15" height="37.20" fill="#B2DBBD"/>
<line x1="1106.7" y1="420.5" x2="1559.8" y2="420.5" stroke="#262626" stroke-width="2"/>
<rect x="1122.88" y="214.31" width="43.15" height="206.19" fill="none" stroke="#000" stroke-width="2.2" stroke-linejoin="round"/>
<rect x="1176.82" y="396.70" width="43.15" height="23.80" fill="none" stroke="#000" stroke-width="2.2" stroke-linejoin="round"/>
<rect x="1230.76" y="342.06" width="43.15" height="78.44" fill="none" stroke="#000" stroke-width="2.2" stroke-linejoin="round"/>
<rect x="1284.70" y="368.39" width="43.15" height="52.11" fill="none" stroke="#000" stroke-width="2.2" stroke-linejoin="round"/>
<rect x="1338.64" y="383.30" width="43.15" height="37.20" fill="none" stroke="#000" stroke-width="2.2" stroke-linejoin="round"/>
<rect x="1392.58" y="420.50" width="43.15" height="6.21" fill="none" stroke="#B01414" stroke-width="2.0" stroke-linejoin="round"/>
<rect x="1446.52" y="420.50" width="43.15" height="37.53" fill="none" stroke="#B01414" stroke-width="2.0" stroke-linejoin="round"/>
<rect x="1500.47" y="420.50" width="43.15" height="50.29" fill="none" stroke="#B01414" stroke-width="2.0" stroke-linejoin="round"/>
<rect x="1106.7" y="168.5" width="453.10" height="384.30" fill="none" stroke="#262626" stroke-width="2.2"/>
<path d="M1144.46 168.5v6M1144.46 552.8v-6M1198.40 168.5v6M1198.40 552.8v-6M1252.34 168.5v6M1252.34 552.8v-6M1306.28 168.5v6M1306.28 552.8v-6M1360.22 168.5v6M1360.22 552.8v-6M1414.16 168.5v6M1414.16 552.8v-6M1468.10 168.5v6M1468.10 552.8v-6M1522.04 168.5v6M1522.04 552.8v-6M1106.7 179.90h6M1559.8 179.90h-6M1106.7 300.20h6M1559.8 300.20h-6M1106.7 420.50h6M1559.8 420.50h-6M1106.7 540.80h6M1559.8 540.80h-6" stroke="#262626" stroke-width="2" fill="none"/>
<g transform="translate(1266.6 146.7) scale(1.013 1.045)" font-size="29.0" fill="#000" stroke="#000" stroke-width="0.4"><text x="0" y="0" font-style="italic">J</text><text x="14.4" y="2.3" font-size="23.2">o</text><text x="30.4" y="0">/</text><text x="39.8" y="0" font-style="italic">J</text><text x="54.5" y="2.3" font-size="23.2">e</text><text x="70.3" y="0"> = 1.5</text></g>
<g transform="translate(1144.46 557.5) rotate(-70)" fill="#000" stroke="#000" stroke-width="0.75"><text x="-34.67" y="27.67" font-size="29">X</text><text x="-15.43" y="29.90" font-size="21.5">L</text><text x="-23.3" y="7.50" font-size="17" text-anchor="middle">~</text></g>
<g transform="translate(1198.40 557.5) rotate(-70)" font-style="italic" fill="#000" stroke="#000" stroke-width="0.75"><text x="-120.20" y="24.7" font-size="20.6" stroke-width="0.85">σ</text><text x="-103.90" y="29.0" font-size="19.6">1</text><text x="-104.90" y="12.60" font-size="18.2">x</text><text x="-89.70" y="24.7" font-size="20.6" stroke-width="0.85">σ</text><text x="-73.40" y="29.0" font-size="19.6">2</text><text x="-74.40" y="12.60" font-size="18.2">x</text><text x="-59.20" y="24.7" font-size="20.6" stroke-width="0.85">σ</text><text x="-42.90" y="29.0" font-size="19.6">3</text><text x="-43.90" y="12.60" font-size="18.2">x</text><text x="-28.70" y="24.7" font-size="20.6" stroke-width="0.85">σ</text><text x="-12.40" y="29.0" font-size="19.6">4</text><text x="-13.40" y="12.60" font-size="18.2">z</text></g>
<g transform="translate(1252.34 557.5) rotate(-70)" font-style="italic" fill="#000" stroke="#000" stroke-width="0.75"><text x="-89.70" y="24.7" font-size="20.6" stroke-width="0.85">σ</text><text x="-73.40" y="29.0" font-size="19.6">2</text><text x="-74.40" y="12.60" font-size="18.2">x</text><text x="-59.20" y="24.7" font-size="20.6" stroke-width="0.85">σ</text><text x="-42.90" y="29.0" font-size="19.6">3</text><text x="-43.90" y="12.60" font-size="18.2">x</text><text x="-28.70" y="24.7" font-size="20.6" stroke-width="0.85">σ</text><text x="-12.40" y="29.0" font-size="19.6">4</text><text x="-13.40" y="12.60" font-size="18.2">z</text></g>
<g transform="translate(1306.28 557.5) rotate(-70)" font-style="italic" fill="#000" stroke="#000" stroke-width="0.75"><text x="-89.70" y="24.7" font-size="20.6" stroke-width="0.85">σ</text><text x="-73.40" y="29.0" font-size="19.6">1</text><text x="-74.40" y="12.60" font-size="18.2">z</text><text x="-59.20" y="24.7" font-size="20.6" stroke-width="0.85">σ</text><text x="-42.90" y="29.0" font-size="19.6">2</text><text x="-43.90" y="12.60" font-size="18.2">z</text><text x="-28.70" y="24.7" font-size="20.6" stroke-width="0.85">σ</text><text x="-12.40" y="29.0" font-size="19.6">3</text><text x="-13.40" y="12.60" font-size="18.2">z</text></g>
<g transform="translate(1360.22 557.5) rotate(-70)" font-style="italic" fill="#000" stroke="#000" stroke-width="0.75"><text x="-89.70" y="24.7" font-size="20.6" stroke-width="0.85">σ</text><text x="-73.40" y="29.0" font-size="19.6">1</text><text x="-72.40" y="8.90" font-size="18.2">y</text><text x="-59.20" y="24.7" font-size="20.6" stroke-width="0.85">σ</text><text x="-42.90" y="29.0" font-size="19.6">2</text><text x="-43.90" y="12.60" font-size="18.2">z</text><text x="-28.70" y="24.7" font-size="20.6" stroke-width="0.85">σ</text><text x="-12.40" y="29.0" font-size="19.6">3</text><text x="-11.40" y="8.90" font-size="18.2">y</text></g>
<g transform="translate(1414.16 557.5) rotate(-70)" font-style="italic" fill="#000" stroke="#000" stroke-width="0.75"><text x="-89.70" y="24.7" font-size="20.6" stroke-width="0.85">σ</text><text x="-73.40" y="29.0" font-size="19.6">1</text><text x="-74.40" y="12.60" font-size="18.2">x</text><text x="-59.20" y="24.7" font-size="20.6" stroke-width="0.85">σ</text><text x="-42.90" y="29.0" font-size="19.6">2</text><text x="-43.90" y="12.60" font-size="18.2">x</text><text x="-28.70" y="24.7" font-size="20.6" stroke-width="0.85">σ</text><text x="-12.40" y="29.0" font-size="19.6">4</text><text x="-13.40" y="12.60" font-size="18.2">z</text></g>
<g transform="translate(1468.10 557.5) rotate(-70)" font-style="italic" fill="#000" stroke="#000" stroke-width="0.75"><text x="-150.70" y="24.7" font-size="20.6" stroke-width="0.85">σ</text><text x="-134.40" y="29.0" font-size="19.6">1</text><text x="-135.40" y="12.60" font-size="18.2">x</text><text x="-120.20" y="24.7" font-size="20.6" stroke-width="0.85">σ</text><text x="-103.90" y="29.0" font-size="19.6">2</text><text x="-102.90" y="8.90" font-size="18.2">y</text><text x="-89.70" y="24.7" font-size="20.6" stroke-width="0.85">σ</text><text x="-73.40" y="29.0" font-size="19.6">3</text><text x="-72.40" y="8.90" font-size="18.2">y</text><text x="-59.20" y="24.7" font-size="20.6" stroke-width="0.85">σ</text><text x="-42.90" y="29.0" font-size="19.6">4</text><text x="-43.90" y="12.60" font-size="18.2">x</text><text x="-28.70" y="24.7" font-size="20.6" stroke-width="0.85">σ</text><text x="-12.40" y="29.0" font-size="19.6">5</text><text x="-13.40" y="12.60" font-size="18.2">z</text></g>
<g transform="translate(1522.04 557.5) rotate(-70)" font-style="italic" fill="#000" stroke="#000" stroke-width="0.75"><text x="-89.70" y="24.7" font-size="20.6" stroke-width="0.85">σ</text><text x="-73.40" y="29.0" font-size="19.6">1</text><text x="-72.40" y="8.90" font-size="18.2">y</text><text x="-59.20" y="24.7" font-size="20.6" stroke-width="0.85">σ</text><text x="-42.90" y="29.0" font-size="19.6">4</text><text x="-41.90" y="8.90" font-size="18.2">y</text><text x="-28.70" y="24.7" font-size="20.6" stroke-width="0.85">σ</text><text x="-12.40" y="29.0" font-size="19.6">5</text><text x="-13.40" y="12.60" font-size="18.2">z</text></g>
<rect x="1632.57" y="205.16" width="42.87" height="215.34" fill="#1E4226"/>
<rect x="1686.16" y="388.12" width="42.87" height="32.38" fill="#2A5C34"/>
<rect x="1739.74" y="420.50" width="42.87" height="31.28" fill="#3E764A"/>
<rect x="1793.32" y="420.50" width="42.87" height="87.34" fill="#508E5E"/>
<rect x="1846.91" y="404.50" width="42.87" height="16.00" fill="#68A678"/>
<rect x="1900.49" y="396.61" width="42.87" height="23.89" fill="#7FB98C"/>
<rect x="2007.66" y="420.50" width="42.87" height="33.20" fill="#B2DBBD"/>
<line x1="1616.5" y1="420.5" x2="2066.6" y2="420.5" stroke="#262626" stroke-width="2"/>
<rect x="1632.57" y="229.58" width="42.87" height="190.92" fill="none" stroke="#000" stroke-width="2.2" stroke-linejoin="round"/>
<rect x="1686.16" y="364.92" width="42.87" height="55.58" fill="none" stroke="#000" stroke-width="2.2" stroke-linejoin="round"/>
<rect x="1739.74" y="420.50" width="42.87" height="57.26" fill="none" stroke="#B01414" stroke-width="2.0" stroke-linejoin="round"/>
<rect x="1793.32" y="420.50" width="42.87" height="95.28" fill="none" stroke="#B01414" stroke-width="2.0" stroke-linejoin="round"/>
<rect x="1846.91" y="404.50" width="42.87" height="16.00" fill="none" stroke="#000" stroke-width="2.2" stroke-linejoin="round"/>
<rect x="1900.49" y="375.39" width="42.87" height="45.11" fill="none" stroke="#000" stroke-width="2.2" stroke-linejoin="round"/>
<rect x="1954.07" y="420.50" width="42.87" height="16.84" fill="none" stroke="#B01414" stroke-width="2.0" stroke-linejoin="round"/>
<rect x="2007.66" y="420.50" width="42.87" height="55.82" fill="none" stroke="#B01414" stroke-width="2.0" stroke-linejoin="round"/>
<rect x="1616.5" y="168.5" width="450.10" height="384.30" fill="none" stroke="#262626" stroke-width="2.2"/>
<path d="M1654.01 168.5v6M1654.01 552.8v-6M1707.59 168.5v6M1707.59 552.8v-6M1761.17 168.5v6M1761.17 552.8v-6M1814.76 168.5v6M1814.76 552.8v-6M1868.34 168.5v6M1868.34 552.8v-6M1921.92 168.5v6M1921.92 552.8v-6M1975.51 168.5v6M1975.51 552.8v-6M2029.09 168.5v6M2029.09 552.8v-6M1616.5 179.90h6M2066.6 179.90h-6M1616.5 300.20h6M2066.6 300.20h-6M1616.5 420.50h6M2066.6 420.50h-6M1616.5 540.80h6M2066.6 540.80h-6" stroke="#262626" stroke-width="2" fill="none"/>
<g transform="translate(1776.4 146.7) scale(1.013 1.045)" font-size="29.0" fill="#000" stroke="#000" stroke-width="0.4"><text x="0" y="0" font-style="italic">J</text><text x="14.4" y="2.3" font-size="23.2">o</text><text x="30.4" y="0">/</text><text x="39.8" y="0" font-style="italic">J</text><text x="54.5" y="2.3" font-size="23.2">e</text><text x="70.3" y="0"> = 0.6</text></g>
<g transform="translate(1654.01 557.5) rotate(-70)" fill="#000" stroke="#000" stroke-width="0.75"><text x="-34.67" y="27.67" font-size="29">X</text><text x="-15.43" y="29.90" font-size="21.5">L</text><text x="-23.3" y="7.50" font-size="17" text-anchor="middle">~</text></g>
<g transform="translate(1707.59 557.5) rotate(-70)" font-style="italic" fill="#000" stroke="#000" stroke-width="0.75"><text x="-120.20" y="24.7" font-size="20.6" stroke-width="0.85">σ</text><text x="-103.90" y="29.0" font-size="19.6">1</text><text x="-104.90" y="12.60" font-size="18.2">x</text><text x="-89.70" y="24.7" font-size="20.6" stroke-width="0.85">σ</text><text x="-73.40" y="29.0" font-size="19.6">2</text><text x="-74.40" y="12.60" font-size="18.2">x</text><text x="-59.20" y="24.7" font-size="20.6" stroke-width="0.85">σ</text><text x="-42.90" y="29.0" font-size="19.6">3</text><text x="-43.90" y="12.60" font-size="18.2">x</text><text x="-28.70" y="24.7" font-size="20.6" stroke-width="0.85">σ</text><text x="-12.40" y="29.0" font-size="19.6">4</text><text x="-13.40" y="12.60" font-size="18.2">z</text></g>
<g transform="translate(1761.17 557.5) rotate(-70)" font-style="italic" fill="#000" stroke="#000" stroke-width="0.75"><text x="-89.70" y="24.7" font-size="20.6" stroke-width="0.85">σ</text><text x="-73.40" y="29.0" font-size="19.6">2</text><text x="-74.40" y="12.60" font-size="18.2">x</text><text x="-59.20" y="24.7" font-size="20.6" stroke-width="0.85">σ</text><text x="-42.90" y="29.0" font-size="19.6">3</text><text x="-43.90" y="12.60" font-size="18.2">x</text><text x="-28.70" y="24.7" font-size="20.6" stroke-width="0.85">σ</text><text x="-12.40" y="29.0" font-size="19.6">4</text><text x="-13.40" y="12.60" font-size="18.2">z</text></g>
<g transform="translate(1814.76 557.5) rotate(-70)" font-style="italic" fill="#000" stroke="#000" stroke-width="0.75"><text x="-89.70" y="24.7" font-size="20.6" stroke-width="0.85">σ</text><text x="-73.40" y="29.0" font-size="19.6">1</text><text x="-74.40" y="12.60" font-size="18.2">z</text><text x="-59.20" y="24.7" font-size="20.6" stroke-width="0.85">σ</text><text x="-42.90" y="29.0" font-size="19.6">2</text><text x="-43.90" y="12.60" font-size="18.2">z</text><text x="-28.70" y="24.7" font-size="20.6" stroke-width="0.85">σ</text><text x="-12.40" y="29.0" font-size="19.6">3</text><text x="-13.40" y="12.60" font-size="18.2">z</text></g>
<g transform="translate(1868.34 557.5) rotate(-70)" font-style="italic" fill="#000" stroke="#000" stroke-width="0.75"><text x="-89.70" y="24.7" font-size="20.6" stroke-width="0.85">σ</text><text x="-73.40" y="29.0" font-size="19.6">1</text><text x="-72.40" y="8.90" font-size="18.2">y</text><text x="-59.20" y="24.7" font-size="20.6" stroke-width="0.85">σ</text><text x="-42.90" y="29.0" font-size="19.6">2</text><text x="-43.90" y="12.60" font-size="18.2">z</text><text x="-28.70" y="24.7" font-size="20.6" stroke-width="0.85">σ</text><text x="-12.40" y="29.0" font-size="19.6">3</text><text x="-11.40" y="8.90" font-size="18.2">y</text></g>
<g transform="translate(1921.92 557.5) rotate(-70)" font-style="italic" fill="#000" stroke="#000" stroke-width="0.75"><text x="-89.70" y="24.7" font-size="20.6" stroke-width="0.85">σ</text><text x="-73.40" y="29.0" font-size="19.6">1</text><text x="-74.40" y="12.60" font-size="18.2">x</text><text x="-59.20" y="24.7" font-size="20.6" stroke-width="0.85">σ</text><text x="-42.90" y="29.0" font-size="19.6">2</text><text x="-43.90" y="12.60" font-size="18.2">x</text><text x="-28.70" y="24.7" font-size="20.6" stroke-width="0.85">σ</text><text x="-12.40" y="29.0" font-size="19.6">4</text><text x="-13.40" y="12.60" font-size="18.2">z</text></g>
<g transform="translate(1975.51 557.5) rotate(-70)" font-style="italic" fill="#000" stroke="#000" stroke-width="0.75"><text x="-150.70" y="24.7" font-size="20.6" stroke-width="0.85">σ</text><text x="-134.40" y="29.0" font-size="19.6">1</text><text x="-135.40" y="12.60" font-size="18.2">x</text><text x="-120.20" y="24.7" font-size="20.6" stroke-width="0.85">σ</text><text x="-103.90" y="29.0" font-size="19.6">2</text><text x="-102.90" y="8.90" font-size="18.2">y</text><text x="-89.70" y="24.7" font-size="20.6" stroke-width="0.85">σ</text><text x="-73.40" y="29.0" font-size="19.6">3</text><text x="-72.40" y="8.90" font-size="18.2">y</text><text x="-59.20" y="24.7" font-size="20.6" stroke-width="0.85">σ</text><text x="-42.90" y="29.0" font-size="19.6">4</text><text x="-43.90" y="12.60" font-size="18.2">x</text><text x="-28.70" y="24.7" font-size="20.6" stroke-width="0.85">σ</text><text x="-12.40" y="29.0" font-size="19.6">5</text><text x="-13.40" y="12.60" font-size="18.2">z</text></g>
<g transform="translate(2029.09 557.5) rotate(-70)" font-style="italic" fill="#000" stroke="#000" stroke-width="0.75"><text x="-89.70" y="24.7" font-size="20.6" stroke-width="0.85">σ</text><text x="-73.40" y="29.0" font-size="19.6">1</text><text x="-72.40" y="8.90" font-size="18.2">y</text><text x="-59.20" y="24.7" font-size="20.6" stroke-width="0.85">σ</text><text x="-42.90" y="29.0" font-size="19.6">4</text><text x="-41.90" y="8.90" font-size="18.2">y</text><text x="-28.70" y="24.7" font-size="20.6" stroke-width="0.85">σ</text><text x="-12.40" y="29.0" font-size="19.6">5</text><text x="-13.40" y="12.60" font-size="18.2">z</text></g>
<g font-size="29.0" fill="#262626" stroke="#262626" stroke-width="0.4"><text transform="translate(44.6 190.8) scale(1.013 1.045)">1</text><text transform="translate(34.4 310.9) scale(1.013 1.045)">0.5</text><text transform="translate(43.8 431.1) scale(1.013 1.045)">0</text><text transform="translate(31.2 551.3) scale(1.013 1.045)">-0.5</text><text transform="translate(21.6 361) rotate(-90) scale(1.013 1.045)" text-anchor="middle">Coefficients</text></g>
</svg>
</body></html>
